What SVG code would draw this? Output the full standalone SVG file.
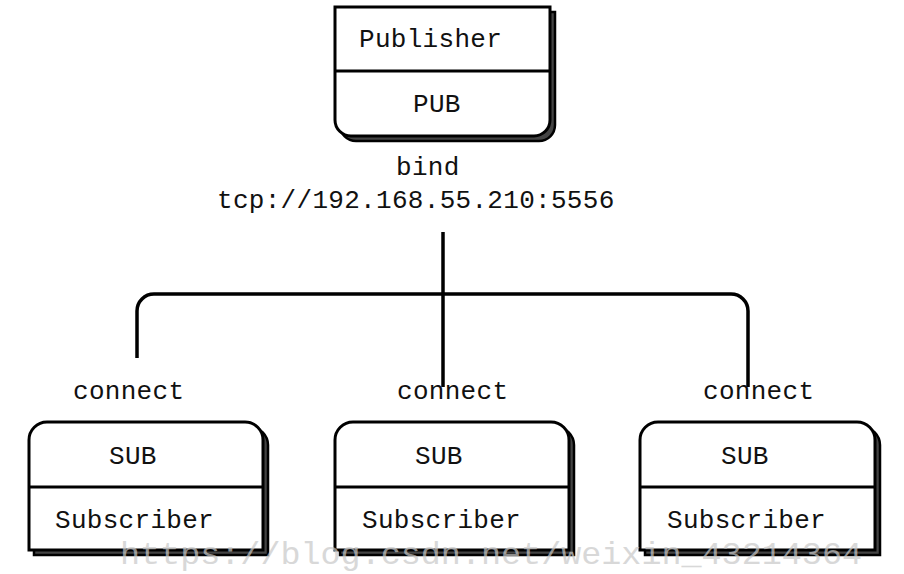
<svg xmlns="http://www.w3.org/2000/svg" width="904" height="574" viewBox="0 0 904 574">
<style>
.t{font-family:"Liberation Mono","Courier New",monospace;font-size:26px;letter-spacing:0.3px;fill:#111}
.box{fill:#fff;stroke:#000;stroke-width:3}
.sh{fill:#444;stroke:#000;stroke-width:2.5}
.div{stroke:#000;stroke-width:3}
.wire{fill:none;stroke:#000;stroke-width:3.5}
.wm{font-family:"Liberation Mono","Courier New",monospace;font-size:32px;fill:#c8c8c8;opacity:0.7}
</style>
<rect width="904" height="574" fill="#fff"/>
<g id="connectors">
<path class="wire" d="M137,358 V311 A17,17 0 0 1 154,294 H731 A17,17 0 0 1 748,311 V387"/>
<path class="wire" d="M443,232 V387"/>
</g>
<g id="publisher">
<path class="sh" d="M340,12 H555 V125 A16,16 0 0 1 539,141 H356 A16,16 0 0 1 340,125 Z"/>
<path class="box" d="M335,7 H550 V120 A16,16 0 0 1 534,136 H351 A16,16 0 0 1 335,120 Z"/>
<line class="div" x1="335" y1="71" x2="550" y2="71"/>
<text class="t" x="359" y="47">Publisher</text>
<text class="t" x="413" y="112">PUB</text>
</g>
<g id="bind-label">
<text class="t" x="396" y="175">bind</text>
<text class="t" x="217" y="208">tcp://192.168.55.210:5556</text>
</g>
<g id="sub1">
<path class="sh" d="M34,555 V445 A18,18 0 0 1 52,427 H250 A18,18 0 0 1 268,445 V555 Z"/>
<path class="box" d="M29,550 V440 A18,18 0 0 1 47,422 H245 A18,18 0 0 1 263,440 V550 Z"/>
<line class="div" x1="29" y1="487" x2="263" y2="487"/>
<text class="t" x="109" y="464">SUB</text>
<text class="t" x="55" y="528">Subscriber</text>
<text class="t" x="73" y="399">connect</text>
</g>
<g id="sub2">
<path class="sh" d="M340,555 V445 A18,18 0 0 1 358,427 H556 A18,18 0 0 1 574,445 V555 Z"/>
<path class="box" d="M335,550 V440 A18,18 0 0 1 353,422 H551 A18,18 0 0 1 569,440 V550 Z"/>
<line class="div" x1="335" y1="487" x2="569" y2="487"/>
<text class="t" x="415" y="464">SUB</text>
<text class="t" x="362" y="528">Subscriber</text>
<text class="t" x="397" y="399">connect</text>
</g>
<g id="sub3">
<path class="sh" d="M645,555 V445 A18,18 0 0 1 663,427 H862 A18,18 0 0 1 880,445 V555 Z"/>
<path class="box" d="M640,550 V440 A18,18 0 0 1 658,422 H857 A18,18 0 0 1 875,440 V550 Z"/>
<line class="div" x1="640" y1="487" x2="875" y2="487"/>
<text class="t" x="721" y="464">SUB</text>
<text class="t" x="667" y="528">Subscriber</text>
<text class="t" x="703" y="399">connect</text>
</g>
<text class="wm" x="120" y="564" textLength="742" lengthAdjust="spacingAndGlyphs">https://blog.csdn.net/weixin_43214364</text>
</svg>
